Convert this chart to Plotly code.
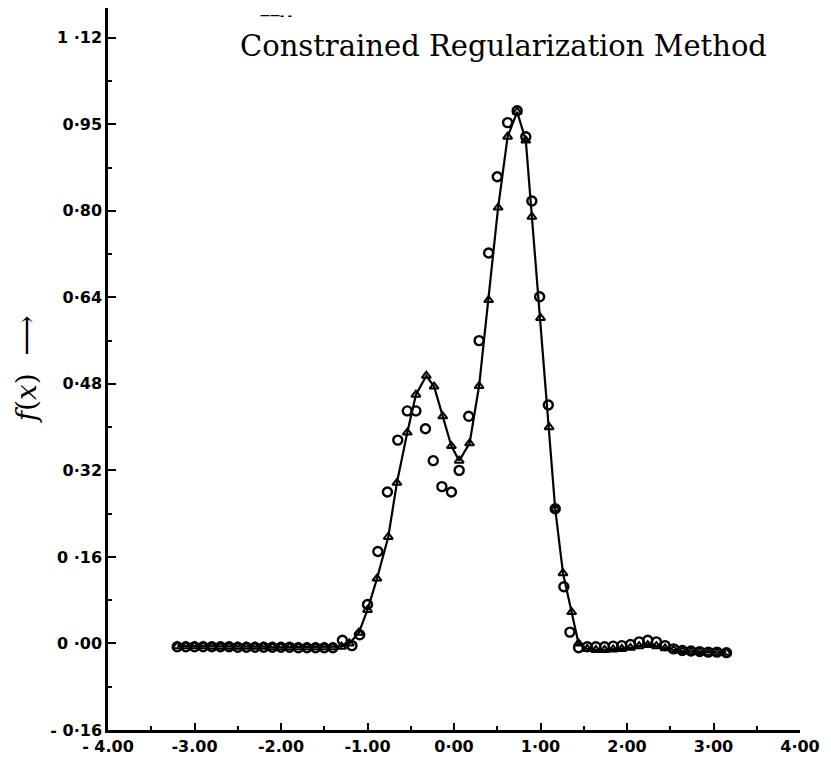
import plotly.graph_objects as go

# ---------------- data ----------------
# Solid curve with triangle markers (regularized solution)
tri_x = [-3.20, -3.10, -3.00, -2.90, -2.80, -2.70, -2.60, -2.50, -2.40, -2.30,
         -2.20, -2.10, -2.00, -1.90, -1.80, -1.70, -1.60, -1.50, -1.40, -1.30,
         -1.21, -1.10, -1.00, -0.89, -0.76, -0.66, -0.54, -0.44, -0.32, -0.23,
         -0.13, -0.03, 0.06, 0.18, 0.29, 0.40, 0.51, 0.62, 0.73, 0.83,
         0.90, 1.00, 1.10, 1.17, 1.26, 1.36, 1.44, 1.54, 1.64, 1.74,
         1.84, 1.94, 2.04, 2.14, 2.24, 2.34, 2.44, 2.54, 2.64, 2.74,
         2.84, 2.94, 3.04, 3.15]
tri_y = [-0.005, -0.005, -0.005, -0.005, -0.006, -0.006, -0.006, -0.006, -0.006, -0.006,
         -0.006, -0.007, -0.007, -0.007, -0.007, -0.007, -0.007, -0.007, -0.007, -0.006,
         0.000, 0.020, 0.062, 0.120, 0.197, 0.297, 0.390, 0.460, 0.495, 0.475,
         0.420, 0.365, 0.338, 0.370, 0.476, 0.635, 0.806, 0.937, 0.983, 0.930,
         0.789, 0.602, 0.400, 0.249, 0.130, 0.058, 0.000, -0.010, -0.012, -0.012,
         -0.011, -0.010, -0.008, -0.005, -0.003, -0.005, -0.009, -0.012, -0.014, -0.015,
         -0.016, -0.017, -0.017, -0.017]

# Open circles (exact / comparison values)
circ_x = [-3.20, -3.10, -3.00, -2.90, -2.80, -2.70, -2.60, -2.50, -2.40, -2.30,
          -2.20, -2.10, -2.00, -1.90, -1.80, -1.70, -1.60, -1.50, -1.40, -1.29,
          -1.18, -1.09, -1.00, -0.88, -0.77, -0.65, -0.54, -0.44, -0.33, -0.24,
          -0.14, -0.03, 0.06, 0.17, 0.29, 0.40, 0.50, 0.62, 0.73, 0.83,
          0.90, 0.99, 1.09, 1.17, 1.27, 1.34, 1.44, 1.54, 1.64, 1.74,
          1.84, 1.94, 2.04, 2.14, 2.24, 2.34, 2.44, 2.54, 2.64, 2.74,
          2.84, 2.94, 3.04, 3.15]
circ_y = [-0.006, -0.006, -0.006, -0.006, -0.006, -0.006, -0.006, -0.007, -0.007, -0.007,
          -0.007, -0.007, -0.007, -0.007, -0.008, -0.008, -0.008, -0.008, -0.008, 0.006,
          -0.004, 0.016, 0.072, 0.170, 0.280, 0.376, 0.430, 0.430, 0.397, 0.338,
          0.290, 0.280, 0.320, 0.420, 0.560, 0.722, 0.863, 0.963, 0.985, 0.937,
          0.818, 0.641, 0.441, 0.249, 0.105, 0.021, -0.008, -0.006, -0.006, -0.006,
          -0.005, -0.004, -0.002, 0.003, 0.006, 0.003, -0.004, -0.010, -0.013, -0.014,
          -0.015, -0.016, -0.016, -0.017]

y_tickvals = [-0.16, 0.00, 0.16, 0.32, 0.48, 0.64, 0.80, 0.96, 1.12]
y_ticktext = ["- 0·16", "0 ·00", "0 ·16", "0·32", "0·48", "0·64", "0·80", "0·95", "1 ·12"]
y_minor = [-0.08, 0.08, 0.24, 0.40, 0.56, 0.72, 0.88, 1.04]

x_tickvals = [-4, -3, -2, -1, 0, 1, 2, 3, 4]
x_ticktext = ["- 4.00", "-3.00", "-2.00", "-1.00", "0·00", "1·00", "2·00", "3·00", "4·00"]
x_minor = [-3.5, -2.5, -1.5, -0.5, 0.5, 1.5, 2.5, 3.5]

title_text = "Constrained Regularization Method"
ylabel_text = "<i>f</i>(<i>x</i>)  ⟶"

# ---------------- figure ----------------
fig = go.Figure()

fig.add_trace(go.Scatter(
    x=tri_x, y=tri_y, mode="lines+markers",
    line=dict(color="black", width=2.2),
    marker=dict(symbol="triangle-up-open", size=8, color="black",
                line=dict(color="black", width=2)),
    showlegend=False, hoverinfo="skip"))

fig.add_trace(go.Scatter(
    x=circ_x, y=circ_y, mode="markers",
    marker=dict(symbol="circle-open", size=9, color="black",
                line=dict(color="black", width=2.4)),
    showlegend=False, hoverinfo="skip"))

tickfont = dict(family="DejaVu Sans", size=16, color="black", weight="bold")

fig.update_xaxes(
    range=[-4, 4], showgrid=False, zeroline=False,
    showline=True, linecolor="black", linewidth=2.5,
    tickmode="array", tickvals=x_tickvals, ticktext=x_ticktext,
    ticks="inside", ticklen=7, tickwidth=2, tickcolor="black",
    tickfont=tickfont,
    minor=dict(tickmode="array", tickvals=x_minor, ticks="inside",
               ticklen=4, tickwidth=2, tickcolor="black"))

fig.update_yaxes(
    range=[-0.16, 1.175], showgrid=False, zeroline=False,
    showline=True, linecolor="black", linewidth=2.5,
    tickmode="array", tickvals=y_tickvals, ticktext=y_ticktext,
    ticks="inside", ticklen=8, tickwidth=2, tickcolor="black",
    tickfont=tickfont,
    minor=dict(tickmode="array", tickvals=y_minor, ticks="inside",
               ticklen=4, tickwidth=2, tickcolor="black"))

fig.add_annotation(
    text=title_text, xref="paper", yref="paper", x=0.572, y=0.947,
    showarrow=False, xanchor="center", yanchor="middle",
    font=dict(family="DejaVu Serif", size=29, color="black"))

fig.add_annotation(
    text="<b>——‐ ‐</b>", xref="paper", yref="paper", x=0.243, y=0.99,
    showarrow=False, xanchor="center", yanchor="middle",
    font=dict(family="DejaVu Sans", size=10, color="black"))

fig.add_annotation(
    text=ylabel_text, xref="paper", yref="paper", x=-0.118, y=0.50,
    showarrow=False, textangle=-90, xanchor="center", yanchor="middle",
    font=dict(family="DejaVu Serif", size=28, color="black"))

fig.update_layout(
    width=831, height=767,
    margin=dict(l=100, r=39, t=0, b=45),
    paper_bgcolor="white", plot_bgcolor="white",
    font=dict(family="DejaVu Sans", color="black"))

fig.write_html("out.html")
